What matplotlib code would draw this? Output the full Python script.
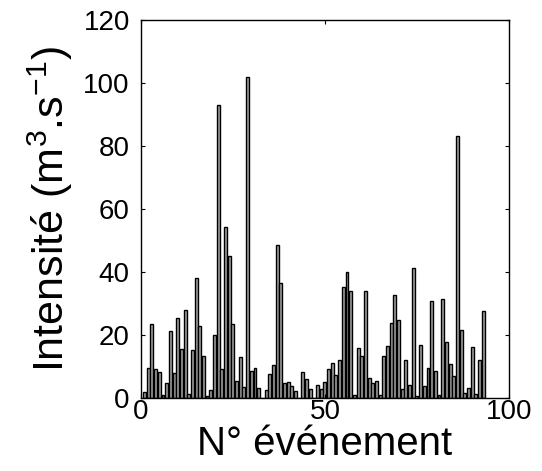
import numpy as np
import matplotlib
matplotlib.use('Agg')
import matplotlib.pyplot as plt

plt.rcParams['font.family'] = ['Liberation Sans', 'DejaVu Sans']
plt.rcParams['mathtext.fontset'] = 'custom'
plt.rcParams['mathtext.rm'] = 'Liberation Sans'
plt.rcParams['mathtext.it'] = 'Liberation Sans:italic'

### donnees
evenement = np.arange(1, 94)
intensite = [1.8, 9.4, 23.4, 9.1, 8.1, 1.1, 4.7, 21.3, 7.9, 25.5,
             15.6, 27.9, 1.3, 15.3, 38.1, 23.0, 13.4, 0.6, 2.4, 20.0,
             92.9, 9.1, 54.2, 45.1, 23.5, 5.3, 12.9, 3.6, 102.0, 8.6,
             9.5, 3.1, 0.0, 2.4, 7.5, 10.5, 48.6, 36.6, 4.9, 5.2,
             3.9, 2.1, 0.0, 8.2, 6.0, 2.8, 0.0, 4.0, 2.7, 5.2,
             9.1, 11.1, 7.2, 12.1, 35.1, 40.1, 34.1, 1.1, 16.0, 13.2,
             34.1, 6.2, 4.7, 5.5, 1.1, 13.2, 16.6, 23.9, 32.6, 24.9,
             2.8, 12.2, 4.2, 41.4, 0.7, 16.9, 3.7, 9.6, 30.7, 8.7,
             0.8, 31.3, 17.7, 10.7, 7.0, 83.1, 21.5, 1.7, 3.3, 16.1,
             1.2, 12.1, 27.7]
xticks = [0, 50, 100]
yticks = [0, 20, 40, 60, 80, 100, 120]

fig = plt.figure(figsize=(5.42, 4.71), dpi=100)
ax = fig.add_axes([0.260, 0.155, 0.679, 0.803])
ax.bar(evenement, intensite, width=0.8, color='#a0a0a0', edgecolor='black', linewidth=1.0)

ax.set_xlim(0, 100)
ax.set_ylim(0, 120)
ax.set_xticks(xticks)
ax.set_yticks(yticks)
ax.tick_params(direction='in', length=3, width=0.8, labelsize=20,
               top=True, right=True)
ax.tick_params(axis='x', pad=1)
ax.tick_params(axis='y', pad=8)
for s in ax.spines.values():
    s.set_linewidth(1.0)

ax.set_xlabel("N° événement", fontsize=29, labelpad=0)
ax.set_ylabel("Intensité (m$^{3}$.s$^{-1}$)", fontsize=31, labelpad=6)

fig.savefig('out.png', dpi=100)
